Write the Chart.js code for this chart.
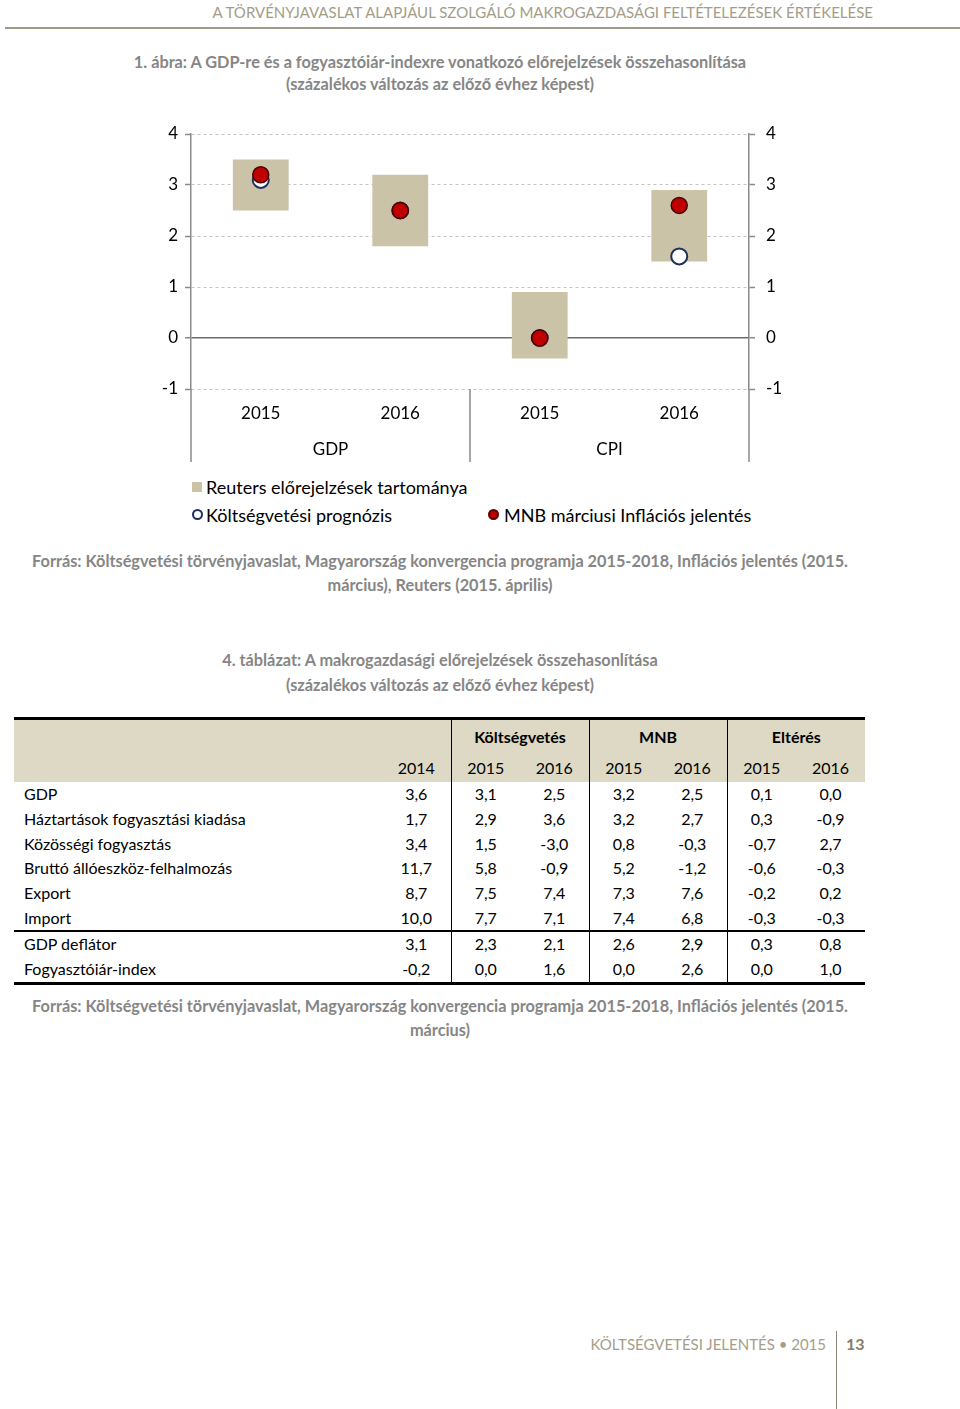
<!DOCTYPE html>
<html lang="hu">
<head>
    <meta charset="UTF-8">
    <title>GDP és fogyasztóiár-index előrejelzések</title>
    <script src="https://cdn.jsdelivr.net/npm/chart.js"></script>
    <style>
        body {
            margin: 0;
            padding: 0;
            width: 960px;
            height: 1409px;
            position: relative;
            background: #fff;
            font-family: Lato, "Open Sans", sans-serif;
            overflow: hidden;
        }
        .abs { position: absolute; white-space: nowrap; }
        .header {
            right: 87px; top: 0; line-height: 24px;
            font-size: 15px; color: #a39d88;
        }
        .header-line {
            left: 5px; top: 27px; width: 955px; height: 2px; background: #a09a86;
        }
        .caption {
            left: 0; width: 880px; text-align: center;
            font-size: 16.3px; font-weight: bold; color: #868686; line-height: 24px;
        }
        #chartBox { left: 150px; top: 110px; width: 640px; height: 362px; }
        .legend { font-size: 18px; color: #000; line-height: 24px; }
        .sq { width: 10px; height: 10px; background: #cbc3a8; }
        .dot { width: 7px; height: 7px; border-radius: 50%; }
        table {
            position: absolute; left: 14px; top: 717px; width: 851px;
            border-collapse: collapse; table-layout: fixed;
            font-size: 16px; color: #000;
            border-top: 3px solid #000; border-bottom: 3px solid #000;
        }
        td { padding: 0; text-align: center; height: 24.7px; line-height: 24px; }
        td.lbl { text-align: left; padding-left: 10px; }
        tr.h1 td { height: 34px; font-weight: bold; background: #ddd9c4; }
        tr.h2 td { height: 28px; background: #ddd9c4; }
        td.sep { border-left: 1.5px solid #000; }
        tr.split td { border-top: 2px solid #000; }
        .footer { right: 134px; top: 1332px; line-height: 24px; font-size: 15px; color: #a59e8a; }
        .footer-line { left: 836px; top: 1331px; width: 1px; height: 78px; background: #8c8578; }
        .pageno { left: 846px; top: 1332px; line-height: 24px; font-size: 16px; font-weight: bold; color: #857c69; }
    </style>
</head>
<body>
    <div class="abs header">A TÖRVÉNYJAVASLAT ALAPJÁUL SZOLGÁLÓ MAKROGAZDASÁGI FELTÉTELEZÉSEK ÉRTÉKELÉSE</div>
    <div class="abs header-line"></div>

    <div class="abs caption" style="top:50px">1. ábra: A GDP-re és a fogyasztóiár-indexre vonatkozó előrejelzések összehasonlítása</div>
    <div class="abs caption" style="top:72px">(százalékos változás az előző évhez képest)</div>

    <div class="abs" id="chartBox"><canvas id="forecastChart" width="640" height="362"></canvas></div>

    <div class="abs sq" style="left:192px; top:482px"></div>
    <div class="abs legend" style="left:206px; top:475px">Reuters előrejelzések tartománya</div>
    <div class="abs dot" style="left:192px; top:509px; border:2px solid #1f2f5c; background:#fff"></div>
    <div class="abs legend" style="left:206px; top:503px">Költségvetési prognózis</div>
    <div class="abs dot" style="left:488px; top:509px; border:2px solid #5a0000; background:#c00000"></div>
    <div class="abs legend" style="left:504px; top:503px">MNB márciusi Inflációs jelentés</div>

    <div class="abs caption" style="top:549px">Forrás: Költségvetési törvényjavaslat, Magyarország konvergencia programja 2015-2018, Inflációs jelentés (2015.</div>
    <div class="abs caption" style="top:573px">március), Reuters (2015. április)</div>

    <div class="abs caption" style="top:648px">4. táblázat: A makrogazdasági előrejelzések összehasonlítása</div>
    <div class="abs caption" style="top:673px">(százalékos változás az előző évhez képest)</div>

    <table id="macroTable">
        <colgroup>
            <col style="width:368px"><col style="width:69px"><col style="width:69px"><col style="width:69px">
            <col style="width:69px"><col style="width:69px"><col style="width:69px"><col style="width:69px">
        </colgroup>
        <tbody id="tableBody"></tbody>
    </table>

    <div class="abs caption" style="top:994px">Forrás: Költségvetési törvényjavaslat, Magyarország konvergencia programja 2015-2018, Inflációs jelentés (2015.</div>
    <div class="abs caption" style="top:1018px">március)</div>

    <div class="abs footer">KÖLTSÉGVETÉSI JELENTÉS • 2015</div>
    <div class="abs footer-line"></div>
    <div class="abs pageno">13</div>

    <script>
        // Ábra adatai
        const categories = ['2015', '2016', '2015', '2016'];
        const groups = ['GDP', 'CPI'];
        const reutersLow = [2.5, 1.8, -0.4, 1.5];
        const reutersHigh = [3.5, 3.2, 0.9, 2.9];
        const budgetForecast = [3.1, 2.5, 0.0, 1.6];
        const mnbForecast = [3.2, 2.5, 0.0, 2.6];

        // Táblázat adatai
        const rowLabels = ['GDP', 'Háztartások fogyasztási kiadása', 'Közösségi fogyasztás', 'Bruttó állóeszköz-felhalmozás',
            'Export', 'Import', 'GDP deflátor', 'Fogyasztóiár-index'];
        const groupHeaders = ['Költségvetés', 'MNB', 'Eltérés'];
        const yearHeaders = ['2014', '2015', '2016', '2015', '2016', '2015', '2016'];
        const val2014 = [3.6, 1.7, 3.4, 11.7, 8.7, 10.0, 3.1, -0.2];
        const budget2015 = [3.1, 2.9, 1.5, 5.8, 7.5, 7.7, 2.3, 0.0];
        const budget2016 = [2.5, 3.6, -3.0, -0.9, 7.4, 7.1, 2.1, 1.6];
        const mnb2015 = [3.2, 3.2, 0.8, 5.2, 7.3, 7.4, 2.6, 0.0];
        const mnb2016 = [2.5, 2.7, -0.3, -1.2, 7.6, 6.8, 2.9, 2.6];
        const diff2015 = [0.1, 0.3, -0.7, -0.6, -0.2, -0.3, 0.3, 0.0];
        const diff2016 = [0.0, -0.9, 2.7, -0.3, 0.2, -0.3, 0.8, 1.0];

        const font = { family: 'Lato', size: 17 };

        // függőleges elválasztók a kategória-csoportok között
        const groupDividers = {
            id: 'groupDividers',
            afterDraw(chart) {
                const { ctx, chartArea, scales } = chart;
                const x = scales.x;
                const bottom = scales.x2.bottom;
                const per = categories.length / groups.length;
                const xs = [chartArea.left, chartArea.right];
                for (let g = 1; g < groups.length; g++) {
                    xs.push((x.getPixelForTick(g * per - 1) + x.getPixelForTick(g * per)) / 2);
                }
                ctx.save();
                ctx.strokeStyle = '#8a8a8a';
                ctx.lineWidth = 1.5;
                xs.forEach(px => {
                    ctx.beginPath();
                    ctx.moveTo(px, chartArea.bottom);
                    ctx.lineTo(px, bottom);
                    ctx.stroke();
                });
                ctx.restore();
            }
        };

        const isZero = c => c.tick && c.tick.value === 0;
        const yAxis = (position, onArea, pad) => ({
            position: position,
            min: -1,
            max: 4,
            ticks: { stepSize: 1, font: font, color: '#000', padding: pad },
            grid: {
                drawOnChartArea: onArea,
                color: c => isZero(c) ? '#6d6d6d' : '#c4c4c4',
                lineWidth: c => isZero(c) ? 1.5 : 1,
                tickColor: '#8a8a8a',
                tickLength: 6,
                tickWidth: 1.5
            },
            border: { color: '#8a8a8a', width: 1.5, dash: c => isZero(c) ? [] : [3, 3] },
            afterFit(s) { s.width = 41; }
        });

        const ctx = document.getElementById('forecastChart').getContext('2d');
        new Chart(ctx, {
            type: 'bar',
            data: {
                labels: categories,
                datasets: [
                    {
                        type: 'line', label: 'MNB márciusi Inflációs jelentés', data: mnbForecast,
                        showLine: false, pointRadius: 8, pointBackgroundColor: '#c00000',
                        pointBorderColor: '#4a0000', pointBorderWidth: 1.5, order: 1
                    },
                    {
                        type: 'line', label: 'Költségvetési prognózis', data: budgetForecast,
                        showLine: false, pointRadius: 8, pointBackgroundColor: '#fff',
                        pointBorderColor: '#1f2f5c', pointBorderWidth: 2, order: 2
                    },
                    {
                        type: 'bar', label: 'Reuters előrejelzések tartománya',
                        data: reutersLow.map((v, i) => [v, reutersHigh[i]]),
                        backgroundColor: '#cbc3a8', barPercentage: 0.4, categoryPercentage: 1, order: 3
                    }
                ]
            },
            options: {
                responsive: false,
                animation: false,
                layout: { padding: { top: 24, bottom: 10 } },
                plugins: { legend: { display: false }, tooltip: { enabled: false } },
                scales: {
                    x: {
                        position: 'bottom',
                        grid: { display: false, drawTicks: false },
                        border: { display: false },
                        ticks: { font: font, color: '#000', padding: 14 },
                        afterFit(s) { s.height = 40; }
                    },
                    x2: {
                        type: 'category',
                        labels: groups,
                        position: 'bottom',
                        offset: true,
                        grid: { display: false, drawTicks: false },
                        border: { display: false },
                        ticks: { font: font, color: '#000', padding: 10 },
                        afterFit(s) { s.height = 33; }
                    },
                    y: yAxis('left', true, 7),
                    y2: yAxis('right', false, 11)
                }
            },
            plugins: [groupDividers]
        });

        // táblázat felépítése
        const fmt = v => v.toFixed(1).replace('.', ',').replace(/^-0,0$/, '0,0');
        const body = document.getElementById('tableBody');
        let html = '<tr class="h1"><td colspan="2"></td>';
        groupHeaders.forEach(h => { html += '<td colspan="2" class="sep">' + h + '</td>'; });
        html += '</tr><tr class="h2"><td></td>';
        yearHeaders.forEach((y, i) => { html += '<td' + (i % 2 === 1 ? ' class="sep"' : '') + '>' + y + '</td>'; });
        html += '</tr>';
        const cols = [val2014, budget2015, budget2016, mnb2015, mnb2016, diff2015, diff2016];
        rowLabels.forEach((label, r) => {
            html += '<tr' + (r === 6 ? ' class="split"' : '') + '><td class="lbl">' + label + '</td>';
            cols.forEach((col, i) => { html += '<td' + (i % 2 === 1 ? ' class="sep"' : '') + '>' + fmt(col[r]) + '</td>'; });
            html += '</tr>';
        });
        body.innerHTML = html;
    </script>
</body>
</html>
